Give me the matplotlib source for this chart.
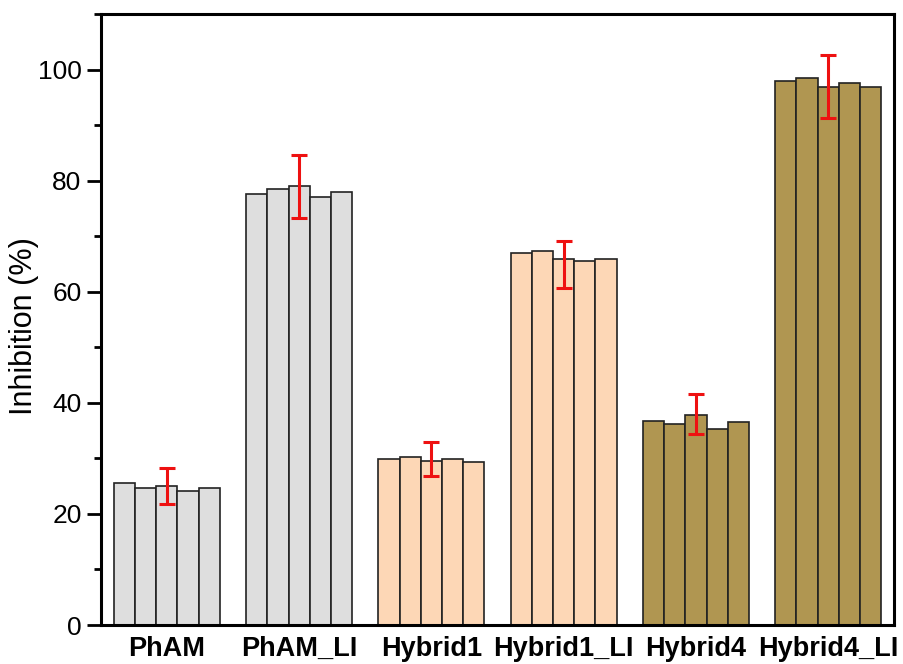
import numpy as np
import matplotlib
matplotlib.use("Agg")
import matplotlib.pyplot as plt
from matplotlib.ticker import MultipleLocator

plt.rcParams['font.family'] = ['Liberation Sans', 'DejaVu Sans']

# Sample groups and five replicate measurements per group (% inhibition)
groups = ["PhAM", "PhAM_LI", "Hybrid1", "Hybrid1_LI", "Hybrid4", "Hybrid4_LI"]
phAM = [25.5, 24.6, 25.0, 24.1, 24.6]
phAM_LI = [77.6, 78.5, 79.0, 77.1, 77.9]
hybrid1 = [29.9, 30.3, 29.5, 29.9, 29.4]
hybrid1_LI = [67.0, 67.4, 65.9, 65.5, 65.9]
hybrid4 = [36.7, 36.2, 37.9, 35.3, 36.5]
hybrid4_LI = [97.9, 98.4, 96.9, 97.6, 96.8]
replicates = [phAM, phAM_LI, hybrid1, hybrid1_LI, hybrid4, hybrid4_LI]

# Mean and standard deviation per group (error bars)
means = [25.0, 79.0, 29.95, 64.95, 38.0, 97.0]
errors = [3.25, 5.65, 3.05, 4.25, 3.6, 5.7]

colors = ["#DEDEDE", "#DEDEDE", "#FDD7B6", "#FDD7B6", "#B09651", "#B09651"]

fig = plt.figure(figsize=(9.04, 6.64), dpi=100)
ax = fig.add_axes([0.1117, 0.0587, 0.8773, 0.9202])

group_step = 6.25
offsets = np.arange(-2, 3)
centers = np.arange(len(groups)) * group_step

for c, vals, col in zip(centers, replicates, colors):
    ax.bar(c + offsets, vals, width=1.0, color=col, edgecolor="#222222",
           linewidth=1.2, zorder=2)

ax.errorbar(centers, means, yerr=errors, fmt="none", ecolor="#EE1111",
            elinewidth=2.2, capsize=6, capthick=2.2, zorder=3)

ax.set_xlim(centers[0] - 3.11, centers[-1] + 3.11)
ax.set_ylim(0, 110)
ax.set_xticks(centers)
ax.set_xticklabels(groups, fontsize=19.5, fontweight="bold")
ax.tick_params(axis="x", length=0, pad=8)

ax.yaxis.set_major_locator(MultipleLocator(20))
ax.yaxis.set_minor_locator(MultipleLocator(10))
ax.tick_params(axis="y", which="major", length=10, width=2, labelsize=19, pad=4)
ax.tick_params(axis="y", which="minor", length=5, width=2)
ax.set_ylabel("Inhibition (%)", fontsize=22)
ax.yaxis.set_label_coords(-0.078, 0.49)

for s in ax.spines.values():
    s.set_linewidth(2.2)

fig.savefig("out.png", dpi=100)
